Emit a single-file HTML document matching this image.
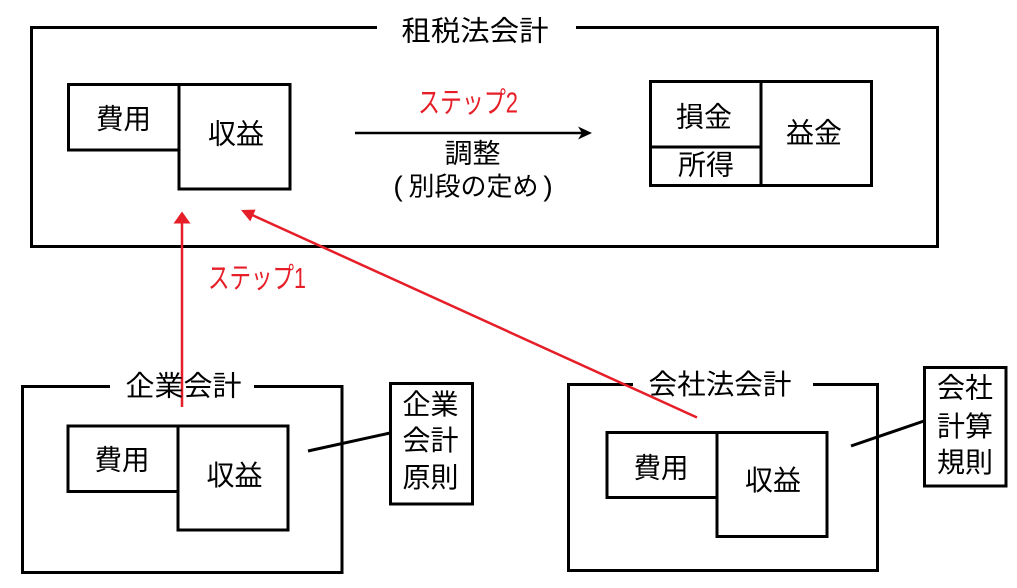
<!DOCTYPE html>
<html><head><meta charset="utf-8">
<style>
html,body{margin:0;padding:0;background:#fff;}
svg{display:block;}
text{font-family:"Liberation Sans","Noto Sans CJK JP",sans-serif;}
</style></head>
<body>
<svg width="1017" height="588" viewBox="0 0 1017 588" xmlns="http://www.w3.org/2000/svg">
<g fill="none" stroke="#000" stroke-width="3">
  <!-- top frame -->
  <path d="M377,27.5 H31.5 V246.5 H937.5 V27.5 H576"/>
  <!-- top-left boxes -->
  <rect x="68.5" y="84.5" width="110.5" height="65.5"/>
  <rect x="179" y="84.5" width="111" height="104.5"/>
  <!-- top-right boxes -->
  <rect x="650.5" y="81.5" width="110.5" height="65.5"/>
  <rect x="650.5" y="147" width="110.5" height="38.5"/>
  <rect x="761" y="81.5" width="110.5" height="104"/>
  <!-- bottom-left frame -->
  <path d="M110,386.5 H22.5 V572.5 H342 V386.5 H254"/>
  <rect x="68" y="426" width="110" height="65.5"/>
  <rect x="178" y="426" width="110" height="104"/>
  <line x1="308" y1="451" x2="390" y2="433"/>
  <rect x="390.5" y="383.5" width="82" height="120.5"/>
  <!-- bottom-right frame -->
  <path d="M633,384.5 H568.5 V570.5 H877.5 V384.5 H813"/>
  <rect x="607" y="432.5" width="110" height="65"/>
  <rect x="717" y="432.5" width="110" height="104"/>
  <line x1="851" y1="446" x2="924" y2="421"/>
  <rect x="924.5" y="367.5" width="81.5" height="118.5"/>
</g>
<!-- black arrow -->
<line x1="355" y1="133" x2="583" y2="133" stroke="#000" stroke-width="2.5"/>
<polygon points="592,133 578,126.5 582,133 578,139.5" fill="#000"/>
<!-- red arrows -->
<g stroke="#e61e28" stroke-width="2.5" fill="none">
  <line x1="182" y1="407" x2="182" y2="220"/>
  <line x1="697" y1="417.5" x2="250" y2="214"/>
</g>
<polygon points="182,211.5 173.5,223.5 190.5,223.5" fill="#e61e28"/>
<polygon points="241,210 250.3,221.4 255.6,209.6" fill="#e61e28"/>

<g fill="#000" font-size="28" text-anchor="middle" dominant-baseline="central">
  <text x="475" y="31" textLength="147" lengthAdjust="spacingAndGlyphs">租税法会計</text>
  <text x="123.5" y="119" textLength="55" lengthAdjust="spacingAndGlyphs">費用</text>
  <text x="236" y="134" textLength="56" lengthAdjust="spacingAndGlyphs">収益</text>
  <text x="704" y="117" textLength="56" lengthAdjust="spacingAndGlyphs">損金</text>
  <text x="706" y="165" textLength="56" lengthAdjust="spacingAndGlyphs">所得</text>
  <text x="814" y="133" textLength="56" lengthAdjust="spacingAndGlyphs">益金</text>
  <text x="472.5" y="154" font-size="27" textLength="56" lengthAdjust="spacingAndGlyphs">調整</text>
  <text x="473.5" y="186.5" font-size="26" textLength="130" lengthAdjust="spacingAndGlyphs">別段の定め</text>
  <text x="398" y="186" font-size="28" font-family="Liberation Sans, sans-serif">(</text>
  <text x="548" y="186" font-size="28" font-family="Liberation Sans, sans-serif">)</text>

  <text x="183.5" y="386" textLength="116" lengthAdjust="spacingAndGlyphs">企業会計</text>
  <text x="122" y="460" textLength="55" lengthAdjust="spacingAndGlyphs">費用</text>
  <text x="234.5" y="475.5" textLength="56" lengthAdjust="spacingAndGlyphs">収益</text>
  <text x="430.5" y="404.5" textLength="56" lengthAdjust="spacingAndGlyphs">企業</text>
  <text x="430.5" y="440.5" textLength="56" lengthAdjust="spacingAndGlyphs">会計</text>
  <text x="430.5" y="477.5" textLength="56" lengthAdjust="spacingAndGlyphs">原則</text>

  <text x="720" y="384.5" textLength="143" lengthAdjust="spacingAndGlyphs">会社法会計</text>
  <text x="661" y="468" textLength="55" lengthAdjust="spacingAndGlyphs">費用</text>
  <text x="773" y="480.5" textLength="56" lengthAdjust="spacingAndGlyphs">収益</text>
  <text x="965" y="388" textLength="56" lengthAdjust="spacingAndGlyphs">会社</text>
  <text x="965" y="426.5" textLength="56" lengthAdjust="spacingAndGlyphs">計算</text>
  <text x="965" y="462.5" textLength="56" lengthAdjust="spacingAndGlyphs">規則</text>
</g>
<g fill="#e61e28" font-size="29" text-anchor="middle" dominant-baseline="central">
  <text x="468" y="103.5" textLength="100" lengthAdjust="spacingAndGlyphs">ステップ2</text>
  <text x="257" y="279" textLength="98" lengthAdjust="spacingAndGlyphs">ステップ1</text>
</g>
</svg>
</body></html>
